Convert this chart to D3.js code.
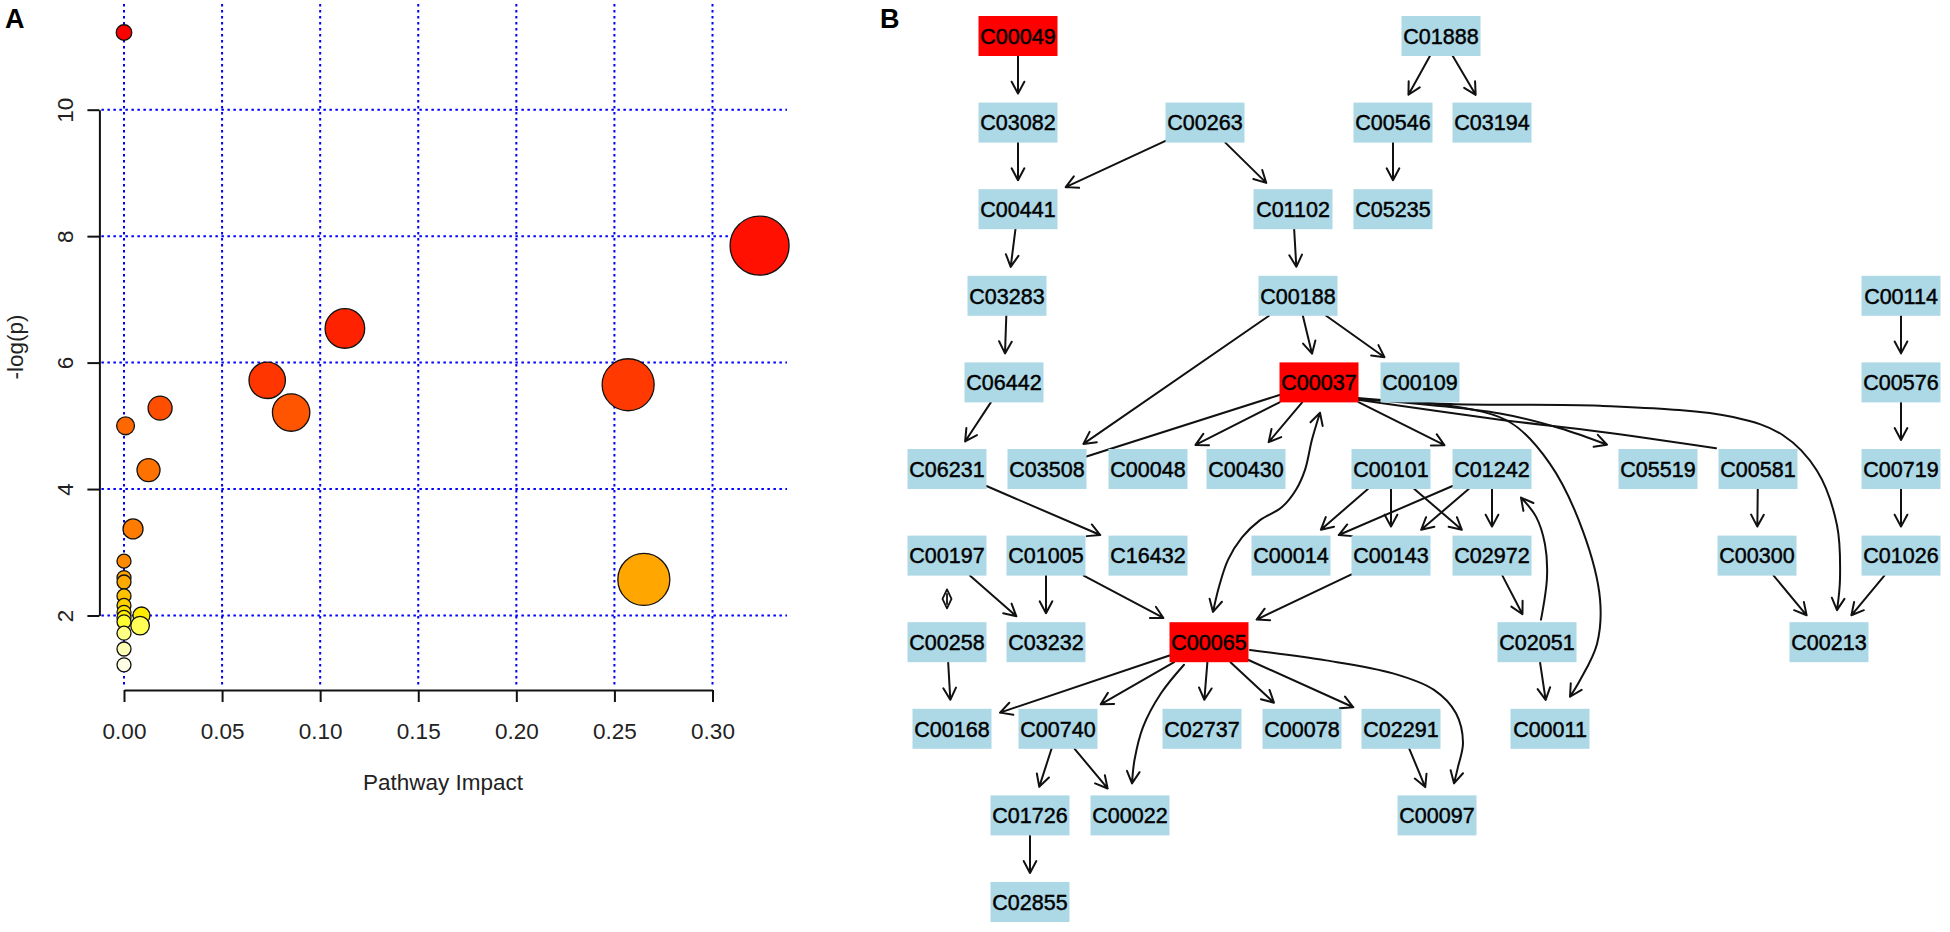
<!DOCTYPE html>
<html><head><meta charset="utf-8">
<script src="https://cdn.jsdelivr.net/npm/d3@7"></script>
<style>body{margin:0;background:#fff}svg{display:block}</style>
</head><body><svg id="c" width="1950" height="932"></svg>
<script>
// ---------- Panel A data ----------
const impact   = [0, 0.324, 0.1126, 0.073, 0.257, 0.0184, 0.0852, 0.0008, 0.0125, 0.0046, 0, 0.265, 0, 0, 0, 0, 0, 0.0089, 0, 0, 0.0082, 0, 0, 0];
const negLogP  = [11.22, 7.85, 6.54, 5.72, 5.65, 5.28, 5.21, 5.00, 4.30, 3.37, 2.86, 2.57, 2.60, 2.53, 2.31, 2.16, 2.05, 2.00, 1.97, 1.90, 1.84, 1.72, 1.47, 1.22];
const bubbleSize = [7.8, 29.5, 19.8, 18.2, 26, 12, 18.7, 8.9, 11.5, 10, 7, 26, 7, 7, 7, 7, 7, 8.5, 7, 7, 9.3, 7, 7, 7];
const xTicks = [0, 0.05, 0.10, 0.15, 0.20, 0.25, 0.30];
const yTicks = [2, 4, 6, 8, 10];
const xTitle = "Pathway Impact";
const yTitle = "-log(p)";

// ---------- Panel B data ----------
const nodeIds = ["C00049","C01888","C03082","C00263","C00546","C03194","C00441","C01102","C05235",
  "C03283","C00188","C00114","C06442","C00037","C00109","C00576",
  "C06231","C03508","C00048","C00430","C00101","C01242","C05519","C00581","C00719",
  "C00197","C01005","C16432","C00014","C00143","C02972","C00300","C01026",
  "C00258","C03232","C00065","C02051","C00213",
  "C00168","C00740","C02737","C00078","C02291","C00011",
  "C01726","C00022","C00097","C02855"];
const nodeCol = [13.8,56.1,13.8,32.5,51.3,61.2,13.8,41.3,51.3,
  12.7,41.8,102.1,12.4,43.9,54.0,102.1,
  6.7,16.7,26.8,36.6,51.1,61.2,77.8,87.8,102.1,
  6.7,16.6,26.8,41.1,51.1,61.2,87.7,102.1,
  6.7,16.6,32.9,65.7,94.9,
  7.2,17.8,32.2,42.2,52.1,67.0,
  15.0,25.0,55.7,15.0];
const nodeRow = [0,0,1,1,1,1,2,2,2,
  3,3,3,4,4,4,4,
  5,5,5,5,5,5,5,5,5,
  6,6,6,6,6,6,6,6,
  7,7,7,7,7,
  8,8,8,8,8,8,
  9,9,9,10];
const matched = ["C00049","C00037","C00065"];
const arrowEdges = [
 ["C00049","C03082"],["C03082","C00441"],["C00263","C00441"],["C00263","C01102"],
 ["C01888","C00546"],["C01888","C03194"],["C00546","C05235"],["C00441","C03283"],
 ["C01102","C00188"],["C03283","C06442"],["C00188","C03508"],["C00188","C00037"],
 ["C00188","C00109"],["C06442","C06231"],["C00037","C00048"],["C00037","C00430"],
 ["C00037","C01242"],["C00101","C00014"],["C00101","C00143"],["C00101","C02972"],
 ["C01242","C00014"],["C01242","C00143"],["C01242","C02972"],["C06231","C16432"],
 ["C00197","C03232"],["C01005","C03232"],["C01005","C00065"],["C00143","C00065"],
 ["C02972","C02051"],["C02051","C00011"],["C00258","C00168"],["C00065","C00168"],
 ["C00065","C00740"],["C00065","C02737"],["C00065","C00078"],["C00065","C02291"],
 ["C00740","C01726"],["C00740","C00022"],["C02291","C00097"],["C01726","C02855"],
 ["C00114","C00576"],["C00576","C00719"],["C00719","C01026"],["C01026","C00213"],
 ["C00581","C00300"],["C00300","C00213"]];
const plainEdges = [["C00037","C03508"]];
const reversibleEdges = [["C00197","C00258"]];
// curved edge routes (graph layout units: column, row)
const curvedEdges = [
 {s:"C00037", t:"C00213", heads:"end", route:[[47.8,4.18],[57.0,4.25],[72.0,4.27],[85.3,4.40],[90.3,4.61],[93.7,5.02],[95.7,5.65],[96.0,6.27],[95.7,6.63]]},
 {s:"C00037", t:"C05519", heads:"end", route:[[47.8,4.19],[62.0,4.36],[68.0,4.53],[72.7,4.72]]},
 {s:"C00037", t:"C00581", heads:"none", route:[[47.8,4.20],[62.0,4.43],[72.0,4.57],[83.6,4.76]]},
 {s:"C00037", t:"C00011", heads:"end", route:[[47.7,4.20],[57.0,4.27],[63.0,4.46],[67.0,4.94],[70.3,5.72],[72.0,6.50],[71.7,7.02],[70.0,7.44],[69.0,7.63]]},
 {s:"C00065", t:"C00037", heads:"both", route:[[33.3,6.65],[33.9,6.36],[34.8,6.05],[36.2,5.79],[38.0,5.59],[40.2,5.44],[41.6,5.24],[42.5,5.01],[43.2,4.66],[44.0,4.35]]},
 {s:"C00065", t:"C00022", heads:"end", route:[[30.4,7.26],[28.1,7.59],[26.3,7.98],[25.45,8.36],[25.2,8.63]]},
 {s:"C00065", t:"C00097", heads:"end", route:[[37.0,7.09],[44.6,7.21],[51.3,7.36],[55.4,7.55],[57.6,7.82],[58.3,8.16],[57.8,8.44],[57.4,8.63]]},
 {s:"C02051", t:"C01242", heads:"end", route:[[66.1,6.74],[66.7,6.25],[66.5,5.87],[65.6,5.55],[64.1,5.33]]}
];

// ---------- drawing ----------
const svg = d3.select("#c");
svg.append("rect").attr("width",1950).attr("height",932).attr("fill","#fff");
const FONT = "'Liberation Sans', Arial, sans-serif";

// Panel A
const gA = svg.append("g");
const x = d3.scaleLinear().domain([0, 0.30]).range([124, 712.5]);
const y = d3.scaleLinear().domain([2, 10]).range([615.5, 109.7]);
const rS = d3.scaleLinear().domain([0, 30]).range([0, 30]);
const heat = d3.scaleLinear()
  .domain([1.22,1.47,1.72,1.84,1.90,1.97,2.05,2.16,2.31,2.55,2.86,3.37,4.30,5.00,5.25,5.70,6.54,7.85,11.22])
  .range(["#ffffe6","#ffffb5","#ffff85","#ffff55","#ffff30","#fff200","#ffe000","#ffd000","#ffc000","#ffa800","#ff8a00","#ff7c00","#ff7200","#ff6800","#ff5000","#ff3600","#ff2200","#ff1000","#ff0000"]);
const plotTop = 4, axisY = 690, axisX = 99.4, plotRight = 787;

gA.selectAll("line.vg").data(xTicks).join("line")
  .attr("x1", d => x(d)).attr("x2", d => x(d)).attr("y1", plotTop).attr("y2", axisY - 2)
  .attr("stroke", "#0000ff").attr("stroke-width", 2).attr("stroke-dasharray", "2.5,3.5");
gA.selectAll("line.hg").data(yTicks).join("line")
  .attr("x1", axisX + 2).attr("x2", plotRight).attr("y1", d => y(d)).attr("y2", d => y(d))
  .attr("stroke", "#0000ff").attr("stroke-width", 2).attr("stroke-dasharray", "2.5,3.5");

const xAxis = gA.append("g").attr("transform", `translate(0,${axisY})`)
  .call(d3.axisBottom(x).tickValues(xTicks).tickSize(12).tickSizeOuter(0).tickFormat(d3.format(".2f")));
xAxis.select(".domain").attr("stroke", "#111").attr("stroke-width", 2);
xAxis.selectAll(".tick line").attr("stroke", "#111").attr("stroke-width", 2);
xAxis.selectAll(".tick text").attr("y", 33).attr("font-size", 22.5).attr("font-family", FONT).attr("fill", "#222");

const yAxis = gA.append("g").attr("transform", `translate(${axisX},0)`)
  .call(d3.axisLeft(y).tickValues(yTicks).tickSize(12).tickSizeOuter(0));
yAxis.select(".domain").attr("stroke", "#111").attr("stroke-width", 2);
yAxis.selectAll(".tick line").attr("stroke", "#111").attr("stroke-width", 2);
yAxis.selectAll(".tick text").attr("transform", "rotate(-90)").attr("x", 0).attr("y", -26).attr("dy", 0)
  .attr("text-anchor", "middle").attr("font-size", 22.5).attr("font-family", FONT).attr("fill", "#222");

gA.append("text").attr("x", 443).attr("y", 790).attr("text-anchor", "middle")
  .attr("font-size", 22.5).attr("font-family", FONT).attr("fill", "#222").text(xTitle);
gA.append("text").attr("transform", "translate(23,347) rotate(-90)").attr("text-anchor", "middle")
  .attr("font-size", 22.5).attr("font-family", FONT).attr("fill", "#222").text(yTitle);

const pts = impact.map((v, i) => ({x: v, y: negLogP[i], r: bubbleSize[i]}))
  .sort((a, b) => b.y - a.y);
gA.selectAll("circle").data(pts).join("circle")
  .attr("cx", d => x(d.x)).attr("cy", d => y(d.y)).attr("r", d => rS(d.r))
  .attr("fill", d => heat(d.y)).attr("stroke", "#111").attr("stroke-width", 1.3);

svg.append("text").attr("x", 5).attr("y", 28).attr("font-size", 27).attr("font-weight", "bold")
  .attr("font-family", FONT).text("A");
svg.append("text").attr("x", 880).attr("y", 28).attr("font-size", 27).attr("font-weight", "bold")
  .attr("font-family", FONT).text("B");

// Panel B
const gB = svg.append("g");
const gx = d3.scaleLinear().domain([0, 100]).range([880, 1880]);
const gy = d3.scaleLinear().domain([0, 10]).range([36, 902]);
const BW = 79, BH = 40, GAP = 9, AL = 13.5, AANG = 28 * Math.PI / 180;
const nodes = nodeIds.map((id, i) => ({id, cx: gx(nodeCol[i]), cy: gy(nodeRow[i]), hit: matched.includes(id)}));
const byId = Object.fromEntries(nodes.map(n => [n.id, n]));

function arrowHead(tx, ty, ux, uy) {
  const a = Math.atan2(uy, ux);
  const p1 = [tx - AL * Math.cos(a - AANG), ty - AL * Math.sin(a - AANG)];
  const p2 = [tx - AL * Math.cos(a + AANG), ty - AL * Math.sin(a + AANG)];
  return `M${p1[0]},${p1[1]}L${tx},${ty}L${p2[0]},${p2[1]}`;
}
function clipT(dx, dy) {
  const tx = dx === 0 ? Infinity : (BW / 2) / Math.abs(dx);
  const ty = dy === 0 ? Infinity : (BH / 2) / Math.abs(dy);
  return Math.min(tx, ty);
}
function straight(e, withArrow) {
  const s = byId[e[0]], t = byId[e[1]];
  const dx = t.cx - s.cx, dy = t.cy - s.cy, L = Math.hypot(dx, dy);
  const ts = clipT(dx, dy), tt = clipT(dx, dy);
  const x1 = s.cx + dx * ts, y1 = s.cy + dy * ts;
  let x2 = t.cx - dx * tt, y2 = t.cy - dy * tt;
  if (withArrow) { x2 -= dx / L * GAP; y2 -= dy / L * GAP; }
  let p = `M${x1},${y1}L${x2},${y2}`;
  if (withArrow) p += arrowHead(x2, y2, dx, dy);
  return p;
}
const edgeG = gB.append("g").attr("fill", "none").attr("stroke", "#111").attr("stroke-width", 2)
  .attr("stroke-linecap", "round").attr("stroke-linejoin", "round");
edgeG.selectAll("path.a").data(arrowEdges).join("path").attr("d", e => straight(e, true));
edgeG.selectAll("path.p").data(plainEdges).join("path").attr("class","p").attr("d", e => straight(e, false));

const curveLine = d3.line().x(d => gx(d[0])).y(d => gy(d[1])).curve(d3.curveCatmullRom.alpha(0.5));
curvedEdges.forEach(c => {
  const r = c.route;
  let d = curveLine(r);
  const n = r.length;
  if (c.heads === "end" || c.heads === "both") {
    const a = r[n - 2], b = r[n - 1];
    d += arrowHead(gx(b[0]), gy(b[1]), gx(b[0]) - gx(a[0]), gy(b[1]) - gy(a[1]));
  }
  if (c.heads === "both") {
    const a = r[1], b = r[0];
    d += arrowHead(gx(b[0]), gy(b[1]), gx(b[0]) - gx(a[0]), gy(b[1]) - gy(a[1]));
  }
  edgeG.append("path").attr("d", d);
});
// reversible (zero-length double arrow) marks
reversibleEdges.forEach(e => {
  const s = byId[e[0]], t = byId[e[1]];
  const mx = (s.cx + t.cx) / 2, my = (s.cy + t.cy) / 2;
  edgeG.append("path").attr("d",
    `M${mx},${my - 9.5}L${mx - 4.5},${my}L${mx},${my + 9.5}L${mx + 4.5},${my}Z M${mx},${my - 5}L${mx},${my + 5}`)
    .attr("stroke-width", 1.8);
});

const ng = gB.selectAll("g.node").data(nodes).join("g").attr("class", "node")
  .attr("transform", d => `translate(${d.cx},${d.cy})`);
ng.append("rect").attr("x", -BW / 2).attr("y", -BH / 2).attr("width", BW).attr("height", BH)
  .attr("fill", d => d.hit ? "#ff0000" : "#add8e6");
ng.append("text").attr("text-anchor", "middle").attr("dy", "0.36em")
  .attr("font-size", 21.5).attr("font-family", FONT).attr("fill", "#000")
  .attr("stroke", "#000").attr("stroke-width", 0.45).text(d => d.id);
</script></body></html>
